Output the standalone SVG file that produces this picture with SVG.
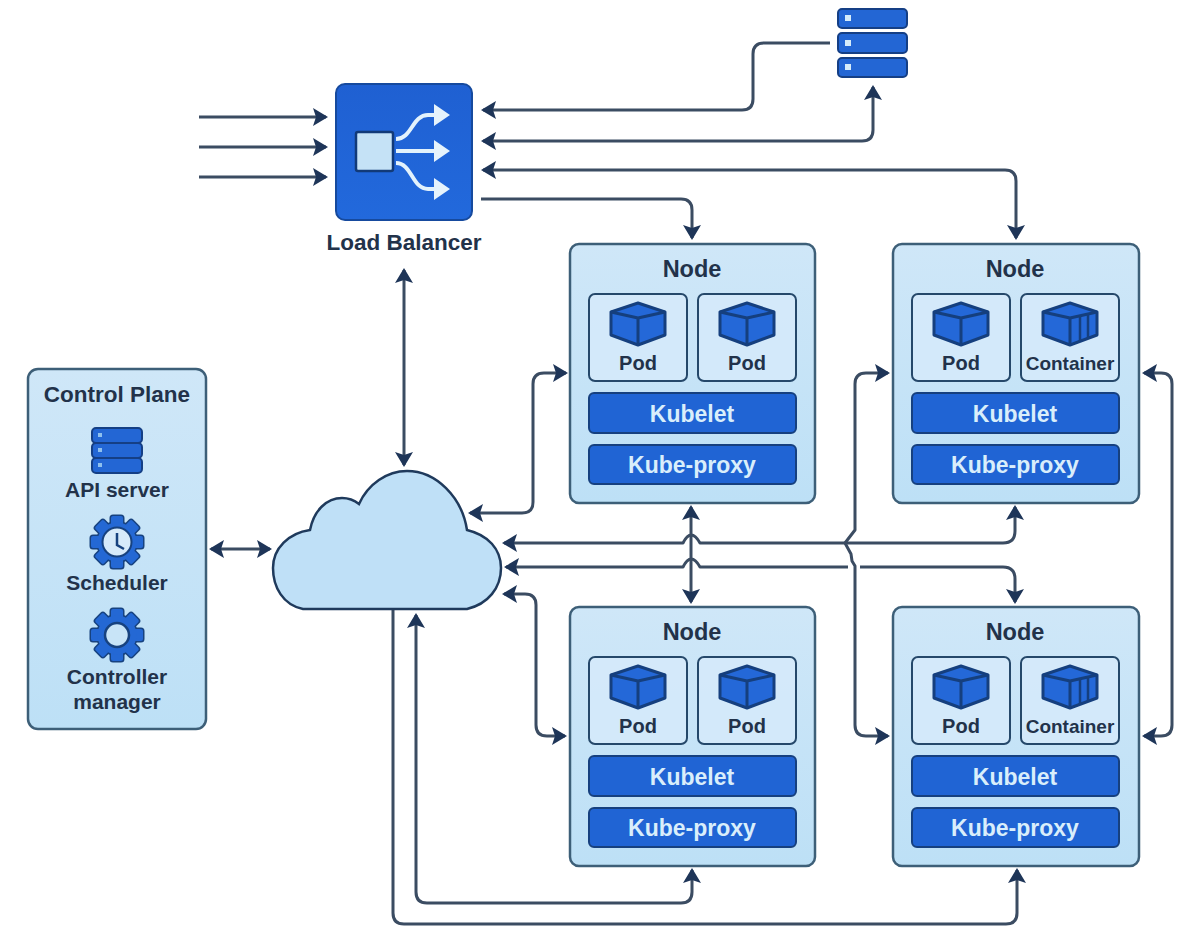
<svg xmlns="http://www.w3.org/2000/svg" width="1188" height="927" viewBox="0 0 1188 927">
<style>
text{font-family:"Liberation Sans",Arial,sans-serif;font-weight:700;text-anchor:middle;fill:#22324a}
.conn{fill:none;stroke:#3b4c62;stroke-width:3;stroke-linejoin:round}
.both{marker-start:url(#ah);marker-end:url(#ah)}
.end{marker-end:url(#ah)}
.start{marker-start:url(#ah)}
.panel{fill:url(#pg);stroke:#3d5f78;stroke-width:2.5}
.pod{fill:#d6eafa;fill-opacity:.8;stroke:#25486a;stroke-width:2}
.bar{fill:#2064d4;stroke:#16407f;stroke-width:2}
.bt{fill:#d9eefb;font-size:23px}
.cube{fill:#2468d8;stroke:#153f7e;stroke-width:3;stroke-linejoin:round}
.srv{fill:#2366d4;stroke:#153f85;stroke-width:2}
.t21{font-size:21px}.t20{font-size:20px}.t19{font-size:19px}.t23{font-size:23.5px}
</style>
<defs>
<linearGradient id="pg" x1="0" y1="0" x2="0" y2="1"><stop offset="0" stop-color="#cfe7f8"/><stop offset="1" stop-color="#bde0f6"/></linearGradient>
<linearGradient id="lb" x1="0" y1="0" x2="0" y2="1"><stop offset="0" stop-color="#1f60d2"/><stop offset="1" stop-color="#2269dc"/></linearGradient>
<marker id="ah" viewBox="0 0 15 18" markerUnits="userSpaceOnUse" markerWidth="15" markerHeight="18" refX="13" refY="9" orient="auto-start-reverse"><path d="M0 0L15 9L0 18L3 9Z" fill="#1e3558"/></marker>
<g id="cube"><path class="cube" d="M0-21L27-12V11L0 21L-27 11V-12Z"/><path class="cube" fill="none" d="M-27-12L0-6L27-12M0-6V21"/></g>
<g id="container"><use href="#cube"/><path fill="none" stroke="#153f7e" stroke-width="2.5" d="M10-8V17M18-10V14"/></g>
<g id="teeth"><rect x="-6" y="-26" width="12" height="12" rx="2"/><rect x="-6" y="-26" width="12" height="12" rx="2" transform="rotate(45)"/><rect x="-6" y="-26" width="12" height="12" rx="2" transform="rotate(90)"/><rect x="-6" y="-26" width="12" height="12" rx="2" transform="rotate(135)"/><rect x="-6" y="-26" width="12" height="12" rx="2" transform="rotate(180)"/><rect x="-6" y="-26" width="12" height="12" rx="2" transform="rotate(225)"/><rect x="-6" y="-26" width="12" height="12" rx="2" transform="rotate(270)"/><rect x="-6" y="-26" width="12" height="12" rx="2" transform="rotate(315)"/></g>
<g id="gear"><use href="#teeth" fill="#17427f" stroke="#17427f" stroke-width="3"/><circle r="21" fill="#17427f"/><use href="#teeth" fill="#2468d4"/><circle r="19.5" fill="#2468d4"/></g>
</defs>
<rect width="1188" height="927" fill="#ffffff"/>

<g id="connectors">
<path class="conn end" d="M199 117H326"/>
<path class="conn end" d="M199 147H326"/>
<path class="conn end" d="M199 177H326"/>
<path class="conn start" d="M483 110H742Q753 110 753 99V54Q753 43 764 43H830"/>
<path class="conn both" d="M483 141H862Q873 141 873 130V87"/>
<path class="conn both" d="M483 170H1005Q1016 170 1016 181V238"/>
<path class="conn end" d="M481 199H681Q692 199 692 210V238"/>
<path class="conn both" d="M404 270V465"/>
<path class="conn both" d="M211 549H270"/>
<path class="conn both" d="M470 513H522Q533 513 533 502V384Q533 373 544 373H566"/>
<path class="conn start" d="M504 543H683Q691 527 700 543H1003Q1015 543 1015 531V507" marker-end="url(#ah)"/>
<path class="conn both" d="M691 507V602"/>
<path class="conn start" d="M506 567H683Q691 551 700 567H848"/>
<path class="conn end" d="M860 567H1003Q1015 567 1015 579V602"/>
<path class="conn both" d="M888 373H866Q855 373 855 384V530L845 543L851 554L852 561L855 566V725Q855 736 866 736H888"/>
<path class="conn both" d="M1144 373H1161Q1172 373 1172 384V725Q1172 736 1161 736H1144"/>
<path class="conn both" d="M504 594H525Q536 594 536 605V725Q536 736 547 736H565"/>
<path class="conn both" d="M416 615V892Q416 903 427 903H681Q692 903 692 892V870"/>
<path class="conn end" d="M393 609V913Q393 924 404 924H1006Q1017 924 1017 913V870"/>
</g>

<g id="server-top">
<rect class="srv" x="838" y="9" width="69" height="19" rx="4"/><rect class="srv" x="838" y="33" width="69" height="20" rx="4"/><rect class="srv" x="838" y="58" width="69" height="19" rx="4"/>
<rect x="845" y="15" width="6" height="6" fill="#d6ecfa"/><rect x="845" y="40" width="6" height="6" fill="#d6ecfa"/><rect x="845" y="64" width="6" height="6" fill="#d6ecfa"/>
</g>

<g id="load-balancer">
<rect x="336" y="84" width="136" height="136" rx="9" fill="url(#lb)" stroke="#164a9e" stroke-width="2"/>
<rect x="356" y="132" width="37" height="39" rx="2" fill="#c5e2f6" stroke="#123a78" stroke-width="2.5"/>
<path fill="none" stroke="#e3f2fc" stroke-width="4" d="M396 139C412 139 412 115 428 115H438M396 151H438M396 163C412 163 412 189 428 189H438"/>
<path fill="#e6f3fc" d="M434 104L450 115L434 126ZM434 140L450 151L434 162ZM434 178L450 189L434 200Z"/>
<text x="404" y="250" style="font-size:22.5px">Load Balancer</text>
</g>

<g id="control-plane">
<rect class="panel" x="28" y="369" width="178" height="360" rx="10"/>
<text x="117" y="402" style="font-size:22.5px">Control Plane</text>
<rect class="srv" x="92" y="428" width="50" height="15" rx="4"/><rect class="srv" x="92" y="443" width="50" height="15" rx="4"/><rect class="srv" x="92" y="458" width="50" height="15" rx="4"/>
<rect x="98" y="433" width="4" height="4" fill="#8fc0ee"/><rect x="98" y="448" width="4" height="4" fill="#8fc0ee"/><rect x="98" y="463" width="4" height="4" fill="#8fc0ee"/>
<text x="117" y="497" class="t21">API server</text>
<use href="#gear" x="117" y="542"/>
<circle cx="117" cy="542" r="14.5" fill="#d6eafa" stroke="#17427f" stroke-width="2"/>
<path d="M117 533V545L124 549" fill="none" stroke="#17427f" stroke-width="2.5"/>
<text x="117" y="590" class="t21">Scheduler</text>
<use href="#gear" x="117" y="635"/>
<circle cx="117" cy="635" r="12" fill="#c8e4f7" stroke="#17427f" stroke-width="2.5"/>
<text x="117" y="684" class="t21">Controller</text>
<text x="117" y="709" class="t21">manager</text>
</g>

<g id="cloud">
<path d="M303 609C283 605 273 587 273 568C273 548 289 533 310 530C314 510 327 498 342 498C349 498 354 500 359 504C368 484 387 471 407 471C436 471 462 497 467 530C488 535 501 549 501 568C501 588 488 604 467 609Z" fill="#bfe0f7" stroke="#1f3a5c" stroke-width="2.5"/>
</g>

<g id="node-1" transform="translate(570 244)">
<rect class="panel" x="0" y="0" width="245" height="259" rx="9"/>
<text x="122" y="33" class="t23">Node</text>
<rect class="pod" x="19" y="50" width="98" height="87" rx="6"/><use href="#cube" x="68" y="80"/><text x="68" y="126" class="t20">Pod</text>
<rect class="pod" x="128" y="50" width="98" height="87" rx="6"/><use href="#cube" x="177" y="80"/><text x="177" y="126" class="t20">Pod</text>
<rect class="bar" x="19" y="149" width="207" height="40" rx="5"/><text class="bt" x="122" y="178">Kubelet</text>
<rect class="bar" x="19" y="201" width="207" height="39" rx="5"/><text class="bt" x="122" y="229">Kube-proxy</text>
</g>

<g id="node-2" transform="translate(893 244)">
<rect class="panel" x="0" y="0" width="246" height="259" rx="9"/>
<text x="122" y="33" class="t23">Node</text>
<rect class="pod" x="19" y="50" width="98" height="87" rx="6"/><use href="#cube" x="68" y="80"/><text x="68" y="126" class="t20">Pod</text>
<rect class="pod" x="128" y="50" width="98" height="87" rx="6"/><use href="#container" x="177" y="80"/><text x="177" y="126" class="t19">Container</text>
<rect class="bar" x="19" y="149" width="207" height="40" rx="5"/><text class="bt" x="122" y="178">Kubelet</text>
<rect class="bar" x="19" y="201" width="207" height="39" rx="5"/><text class="bt" x="122" y="229">Kube-proxy</text>
</g>

<g id="node-3" transform="translate(570 607)">
<rect class="panel" x="0" y="0" width="245" height="259" rx="9"/>
<text x="122" y="33" class="t23">Node</text>
<rect class="pod" x="19" y="50" width="98" height="87" rx="6"/><use href="#cube" x="68" y="80"/><text x="68" y="126" class="t20">Pod</text>
<rect class="pod" x="128" y="50" width="98" height="87" rx="6"/><use href="#cube" x="177" y="80"/><text x="177" y="126" class="t20">Pod</text>
<rect class="bar" x="19" y="149" width="207" height="40" rx="5"/><text class="bt" x="122" y="178">Kubelet</text>
<rect class="bar" x="19" y="201" width="207" height="39" rx="5"/><text class="bt" x="122" y="229">Kube-proxy</text>
</g>

<g id="node-4" transform="translate(893 607)">
<rect class="panel" x="0" y="0" width="246" height="259" rx="9"/>
<text x="122" y="33" class="t23">Node</text>
<rect class="pod" x="19" y="50" width="98" height="87" rx="6"/><use href="#cube" x="68" y="80"/><text x="68" y="126" class="t20">Pod</text>
<rect class="pod" x="128" y="50" width="98" height="87" rx="6"/><use href="#container" x="177" y="80"/><text x="177" y="126" class="t19">Container</text>
<rect class="bar" x="19" y="149" width="207" height="40" rx="5"/><text class="bt" x="122" y="178">Kubelet</text>
<rect class="bar" x="19" y="201" width="207" height="39" rx="5"/><text class="bt" x="122" y="229">Kube-proxy</text>
</g>
</svg>
